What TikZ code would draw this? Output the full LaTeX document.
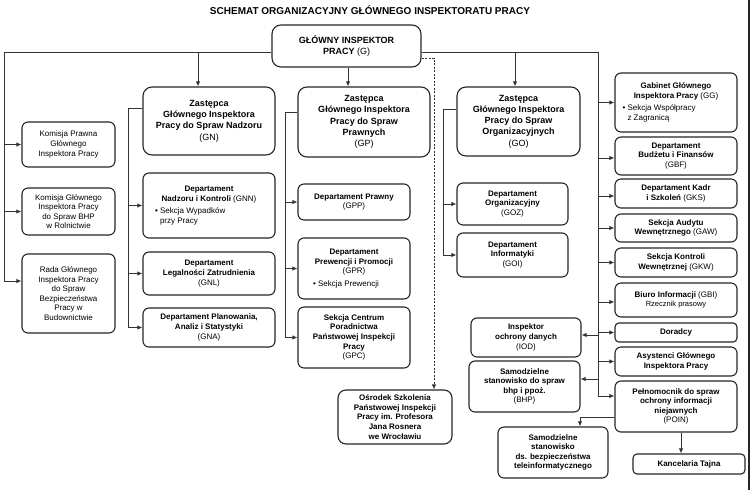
\documentclass[tikz,border=0pt]{standalone}
\usepackage{fontspec}
\setmainfont{Liberation Sans}
\usetikzlibrary{arrows.meta}
\begin{document}
\begin{tikzpicture}[x=1pt,y=-1pt,
  box/.style={draw=black!85, line width=1.1pt, rounded corners=6pt, align=center, inner sep=1pt, fill=white},
  sz/.style 2 args={minimum width=#1pt, minimum height=#2pt},
  dep/.style={box, font=\fontsize{8}{9.6}\selectfont\bfseries},
  reg/.style={box, font=\fontsize{8}{9.6}\selectfont},
  dpt/.style={box, rounded corners=9pt, font=\fontsize{9}{11.3}\selectfont\bfseries},
  conn/.style={draw=black!80, line width=1pt},
  arr/.style={conn, -{Latex[length=5pt,width=4.5pt]}},
  darr/.style={draw=black!80, line width=0.8pt, dash pattern=on 2pt off 1.5pt, -{Latex[length=5pt,width=4.5pt]}},
  ttl/.style={font=\fontsize{10}{12}\selectfont\bfseries, inner sep=0pt}
]
\fill[white] (0,0) rectangle (752,490);
\useasboundingbox (0,0) rectangle (752,490);
\coordinate (BT) at (749,0);
\coordinate (BB) at (749,490);
\draw[line width=1.6pt, black!85] (BT) -- (BB);

\node[ttl] (T) at (370,10) {SCHEMAT ORGANIZACYJNY GŁÓWNEGO INSPEKTORATU PRACY};

% top
\node[dpt, sz={149}{42}] (G) at (346.5,46) {GŁÓWNY INSPEKTOR\\PRACY \textmd{(G)}};

% deputies
\node[dpt, sz={132}{68}] (GN) at (209,121) {Zastępca\\Głównego Inspektora\\Pracy do Spraw Nadzoru\\\textmd{(GN)}};
\node[dpt, sz={132}{70}] (GP) at (364,122) {Zastępca\\Głównego Inspektora\\Pracy do Spraw\\Prawnych\\\textmd{(GP)}};
\node[dpt, sz={123}{69}] (GO) at (518.5,121.5) {Zastępca\\Głównego Inspektora\\Pracy do Spraw\\Organizacyjnych\\\textmd{(GO)}};

% left column
\node[reg, sz={93}{45}] (KP) at (68.5,144.5) {Komisja Prawna\\Głównego\\Inspektora Pracy};
\node[reg, sz={93}{47}] (KG) at (68.5,211.5) {Komisja Głównego\\Inspektora Pracy\\do Spraw BHP\\w Rolnictwie};
\node[reg, sz={93}{79}] (RADA) at (68.5,293.5) {Rada Głównego\\Inspektora Pracy\\do Spraw\\Bezpieczeństwa\\Pracy w\\Budownictwie};

% GN column
\node[dep, sz={132}{65}] (GNN) at (209,205.5) {Departament\\Nadzoru i Kontroli \textmd{(GNN)}\\[3pt]\makebox[108pt][l]{\mdseries • Sekcja Wypadków}\\\makebox[108pt][l]{\mdseries\hspace{5pt}przy Pracy}};
\node[dep, sz={132}{43}] (GNL) at (209,273.5) {Departament\\Legalności Zatrudnienia\\\textmd{(GNL)}};
\node[dep, sz={132}{39}] (GNA) at (209,327.5) {Departament Planowania,\\Analiz i Statystyki\\\textmd{(GNA)}};

% GP column
\node[dep, sz={112}{36}] (GPP) at (354,202) {Departament Prawny\\\textmd{(GPP)}};
\node[dep, sz={112}{61}] (GPR) at (354,268.5) {Departament\\Prewencji i Promocji\\\textmd{(GPR)}\\[3pt]\makebox[82pt][l]{\mdseries • Sekcja Prewencji}};
\node[dep, sz={112}{61}] (GPC) at (354,337.5) {Sekcja Centrum\\Poradnictwa\\Państwowej Inspekcji\\Pracy\\\textmd{(GPC)}};

% GO column
\node[dep, sz={111}{42}] (GOZ) at (512.5,204) {Departament\\Organizacyjny\\\textmd{(GOZ)}};
\node[dep, sz={111}{44}] (GOI) at (512.5,255) {Departament\\Informatyki\\\textmd{(GOI)}};

% right column
\node[dep, sz={122}{59}] (GG) at (676,102.5) {Gabinet Głównego\\Inspektora Pracy \textmd{(GG)}\\[3pt]\makebox[107pt][l]{\mdseries • Sekcja Współpracy}\\\makebox[107pt][l]{\mdseries\hspace{5pt}z Zagranicą}};
\node[dep, sz={122}{38}] (GBF) at (676,156) {Departament\\Budżetu i Finansów\\\textmd{(GBF)}};
\node[dep, sz={122}{29}] (GKS) at (676,193.5) {Departament Kadr\\i Szkoleń \textmd{(GKS)}};
\node[dep, sz={122}{28}] (GAW) at (676,228) {Sekcja Audytu\\Wewnętrznego \textmd{(GAW)}};
\node[dep, sz={122}{29}] (GKW) at (676,262.5) {Sekcja Kontroli\\Wewnętrznej \textmd{(GKW)}};
\node[dep, sz={122}{34}] (GBI) at (676,300) {Biuro Informacji \textmd{(GBI)}\\{\mdseries\fontsize{7.5}{9.6}\selectfont Rzecznik prasowy}};
\node[dep, sz={122}{19}, rounded corners=4pt] (DOR) at (676,332.5) {Doradcy};
\node[dep, sz={122}{29}] (AGI) at (676,361.5) {Asystenci Głównego\\Inspektora Pracy};
\node[dep, sz={122}{51}] (POIN) at (676,406.5) {Pełnomocnik do spraw\\ochrony informacji\\niejawnych\\\textmd{(POIN)}};
\node[dep, sz={112}{20}, rounded corners=4pt] (KT) at (689,464) {Kancelaria Tajna};

% middle-right small boxes
\node[dep, sz={110}{39}] (IOD) at (526,337.5) {Inspektor\\ochrony danych\\\textmd{(IOD)}};
\node[dep, sz={111}{51}] (BHP) at (524.5,386.5) {Samodzielne\\stanowisko do spraw\\bhp i ppoż.\\\textmd{(BHP)}};
\node[dep, sz={110}{51}] (SBT) at (553,452.5) {Samodzielne\\stanowisko\\ds. bezpieczeństwa\\teleinformatycznego};
\node[dep, sz={114}{54}, rounded corners=8pt] (OSR) at (395,417) {Ośrodek Szkolenia\\Państwowej Inspekcji\\Pracy im. Profesora\\Jana Rosnera\\we Wrocławiu};

% ---------- connectors ----------
\coordinate (HLL) at (4,52);
\coordinate (HLR) at (598,52);
\draw[conn] ([yshift=-6pt]G.west) -- (HLL);
\draw[conn] ([yshift=-6pt]G.east) -- (HLR);

% left trunk
\coordinate (radain) at ([yshift=12.5pt]RADA.west);
\draw[arr] (HLL) |- (KP.west);
\draw[arr] (HLL) |- (KG.west);
\draw[arr] (HLL) |- (radain);

% deputies
\coordinate (gnin) at ([xshift=-11pt]GN.north);
\draw[arr] (gnin |- HLL) -- (gnin);
\coordinate (gpout) at ([xshift=1.5pt]G.south);
\draw[arr] (gpout) -- (gpout |- GP.north);
\coordinate (goin) at ([xshift=-3.5pt]GO.north);
\draw[arr] (goin |- HLR) -- (goin);

% GN trunk
\coordinate (gnout) at ([yshift=13pt]GN.west);
\coordinate (GNT) at (128,0);
\draw[conn] (gnout) -| (GNT |- GNA.west);
\draw[arr] (GNT |- GNN.west) -- (GNN.west);
\draw[arr] (GNT |- GNL.west) -- (GNL.west);
\draw[arr] (GNT |- GNA.west) -- (GNA.west);

% GP trunk
\coordinate (gpw) at ([yshift=10pt]GP.west);
\coordinate (GPT) at (285,0);
\draw[conn] (gpw) -| (GPT |- GPC.west);
\draw[arr] (GPT |- GPP.west) -- (GPP.west);
\draw[arr] (GPT |- GPR.west) -- (GPR.west);
\draw[arr] (GPT |- GPC.west) -- (GPC.west);

% GO trunk
\coordinate (gow) at ([yshift=12.5pt]GO.west);
\coordinate (GOT) at (443,0);
\draw[conn] (gow) -| (GOT |- GOI.west);
\draw[arr] (GOT |- GOZ.west) -- (GOZ.west);
\draw[arr] (GOT |- GOI.west) -- (GOI.west);

% right trunk
\coordinate (gbfin) at ([yshift=-2pt]GBF.west);
\coordinate (gksin) at ([yshift=-2.5pt]GKS.west);
\coordinate (gbiin) at ([yshift=-2pt]GBI.west);
\coordinate (poinin) at ([yshift=10.5pt]POIN.west);
\draw[conn] (HLR) -- (HLR |- poinin);
\draw[arr] (HLR |- GG.west) -- (GG.west);
\draw[arr] (HLR |- gbfin) -- (gbfin);
\draw[arr] (HLR |- gksin) -- (gksin);
\draw[arr] (HLR |- GAW.west) -- (GAW.west);
\draw[arr] (HLR |- GKW.west) -- (GKW.west);
\draw[arr] (HLR |- gbiin) -- (gbiin);
\draw[arr] (HLR |- DOR.west) -- (DOR.west);
\draw[arr] (HLR |- AGI.west) -- (AGI.west);
\draw[arr] (HLR |- poinin) -- (poinin);
\coordinate (iodin) at ([yshift=2.5pt]IOD.east);
\coordinate (bhpin) at ([yshift=7.5pt]BHP.east);
\draw[arr] (HLR |- iodin) -- (iodin);
\draw[arr] (HLR |- bhpin) -- (bhpin);

% POIN children
\coordinate (poinw) at ([yshift=-10.5pt]POIN.west);
\coordinate (sbtin) at ([xshift=27pt]SBT.north);
\draw[arr] (poinw) -| (sbtin);
\coordinate (poins) at ([xshift=5pt]POIN.south);
\draw[arr] (poins) -- (poins |- KT.north);

% dashed to Osrodek
\coordinate (gdash) at ([yshift=-12pt]G.east);
\coordinate (osrin) at ([xshift=39pt]OSR.north);
\draw[darr] (gdash) -| (osrin);
\end{tikzpicture}
\end{document}
